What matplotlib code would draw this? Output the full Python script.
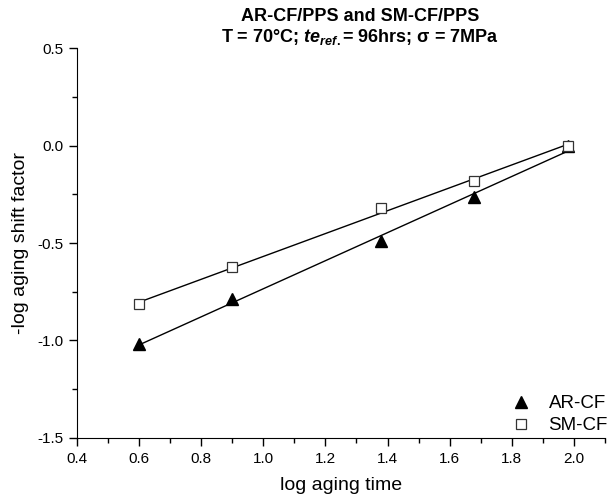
import matplotlib

matplotlib.use("Agg")
import matplotlib.pyplot as plt
import numpy as np
from matplotlib.ticker import MultipleLocator

plt.rcParams["font.family"] = ["Liberation Sans", "DejaVu Sans"]
plt.rcParams["axes.unicode_minus"] = False
plt.rcParams["mathtext.fontset"] = "custom"
plt.rcParams["mathtext.rm"] = "Liberation Sans:bold"
plt.rcParams["mathtext.it"] = "Liberation Sans:bold:italic"
plt.rcParams["mathtext.bf"] = "Liberation Sans:bold"
plt.rcParams["mathtext.bfit"] = "Liberation Sans:bold:italic"

# data
log_time = [0.60, 0.90, 1.38, 1.68, 1.98]
ar_cf = [-1.02, -0.79, -0.49, -0.265, 0.0]
sm_cf = [-0.815, -0.625, -0.32, -0.18, 0.0]

fig = plt.figure(figsize=(6.11, 4.99), dpi=100)
ax = fig.add_axes([0.126, 0.123, 0.864, 0.780])

# least-squares lines through each series, drawn between first and last point
x = np.asarray(log_time)
for ys in (ar_cf, sm_cf):
    k, b = np.polyfit(x, ys, 1)
    ax.plot([x[0], x[-1]], [k * x[0] + b, k * x[-1] + b], color="black", lw=1.0, zorder=2)

ax.plot(log_time, ar_cf, ls="none", marker="^", ms=8.5, color="black", label="AR-CF", zorder=3)
ax.plot(log_time, sm_cf, ls="none", marker="s", ms=7, mfc="white", mec="#333333", mew=0.9,
        label="SM-CF", zorder=4)

ax.set_xlim(0.4, 2.1)
ax.set_ylim(-1.5, 0.5)
ax.xaxis.set_major_locator(MultipleLocator(0.2))
ax.xaxis.set_minor_locator(MultipleLocator(0.1))
ax.yaxis.set_major_locator(MultipleLocator(0.5))
ax.yaxis.set_minor_locator(MultipleLocator(0.25))
ax.spines["top"].set_visible(False)
ax.spines["right"].set_visible(False)
ax.tick_params(which="major", direction="out", length=6, width=1, labelsize=11, pad=4)
ax.tick_params(which="minor", direction="out", length=3.5, width=1)
ax.set_xlabel("log aging time", fontsize=14, labelpad=8)
ax.set_ylabel("-log aging shift factor", fontsize=14, labelpad=6)

ax.legend(loc="lower right", frameon=False, fontsize=13.5, handlelength=1.5, handletextpad=0.7,
          borderpad=0, borderaxespad=0, labelspacing=0.25,
          bbox_to_anchor=(0.995, 0.13), bbox_transform=fig.transFigure)

fig.text(0.589, 0.984, "AR-CF/PPS and SM-CF/PPS", ha="center", va="top",
         fontsize=13, fontweight="bold")
fig.text(0.589, 0.946, r"T = 70°C; $\mathbfit{te}_{ref.}$= 96hrs; σ = 7MPa", ha="center", va="top",
         fontsize=13, fontweight="bold")

fig.savefig("out.png", dpi=100)
